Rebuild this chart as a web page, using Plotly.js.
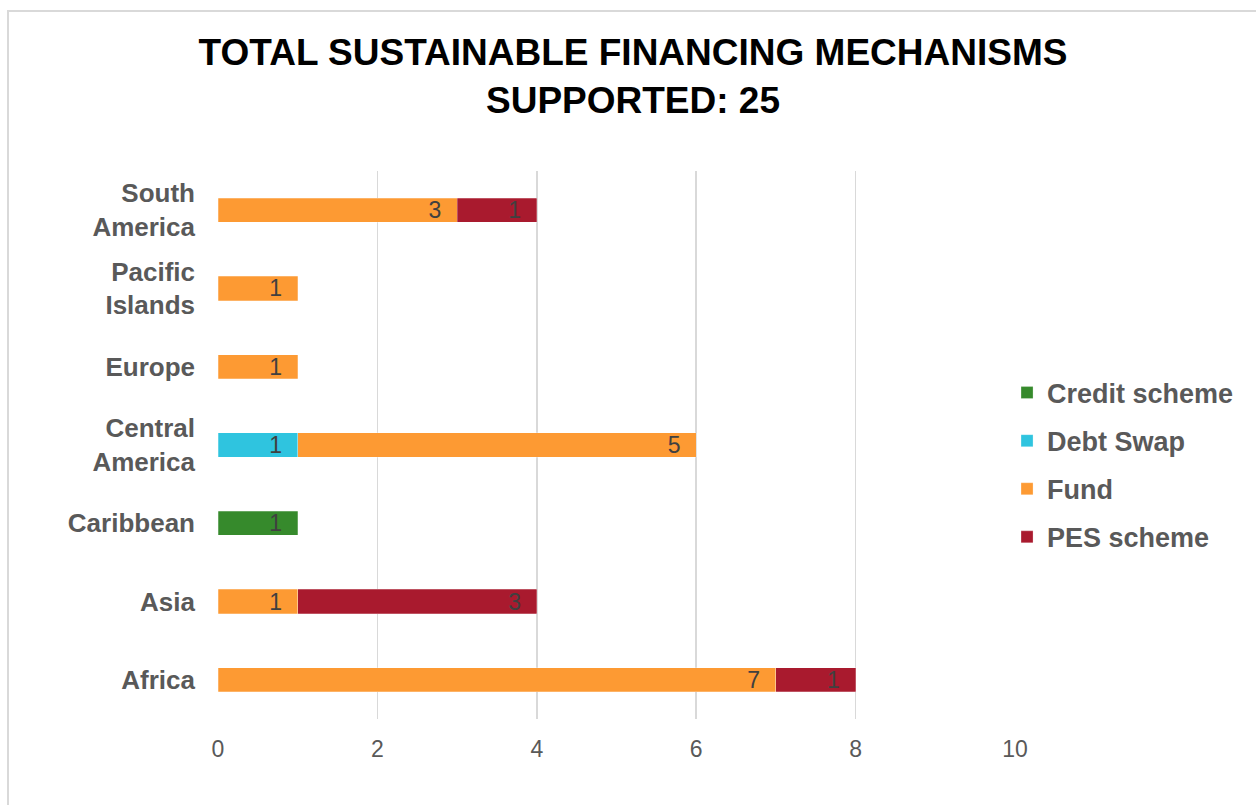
<!DOCTYPE html>
<html>
<head>
<meta charset="utf-8">
<script src="https://cdn.plot.ly/plotly-3.0.1.min.js"></script>
<style>
  html, body { margin: 0; padding: 0; background: #ffffff; }
  #chart { position: absolute; left: 0; top: 0; width: 1256px; height: 805px; }
  #frame { position: absolute; left: 7px; top: 10px; width: 1400px; height: 1000px;
           border-left: 2px solid #d9d9d9; border-top: 2px solid #d9d9d9; pointer-events: none; }
</style>
</head>
<body>
<div id="chart"></div>
<div id="frame"></div>
<script>
// Data
const categories = ["Africa", "Asia", "Caribbean", "Central<br>America", "Europe", "Pacific<br>Islands", "South<br>America"];
const seriesNames = ["Credit scheme", "Debt Swap", "Fund", "PES scheme"];
const creditScheme = [0, 0, 1, 0, 0, 0, 0];
const debtSwap     = [0, 0, 0, 1, 0, 0, 0];
const fund         = [7, 1, 0, 5, 1, 1, 3];
const pesScheme    = [1, 3, 0, 0, 0, 0, 1];
const xTickValues  = [0, 2, 4, 6, 8, 10];
const chartTitle   = "TOTAL SUSTAINABLE FINANCING MECHANISMS<br>SUPPORTED: 25";

const seriesValues = [creditScheme, debtSwap, fund, pesScheme];
const seriesColors = ["#368a2c", "#2fc4df", "#fd9a33", "#a91a2e"];

const FONT = "Liberation Sans, Arial, Helvetica, sans-serif";

const traces = seriesValues.map((vals, i) => ({
  type: "bar",
  orientation: "h",
  name: seriesNames[i],
  legendgroup: "g" + i,
  y: categories,
  x: vals.map(v => v === 0 ? null : v),
  text: vals.map(v => v === 0 ? "" : String(v) + "\u00a0\u00a0"),
  textposition: "inside",
  insidetextanchor: "end",
  textangle: 0,
  constraintext: "none",
  textfont: { family: FONT, size: 23, color: "#404040" },
  marker: { color: seriesColors[i], line: { color: "rgba(255,255,255,0.5)", width: 0.5 } },
  hoverinfo: "name+x"
}));

const layout = {
  width: 1256,
  height: 805,
  paper_bgcolor: "#ffffff",
  plot_bgcolor: "#ffffff",
  margin: { l: 218, r: 241, t: 171, b: 86 },
  barmode: "stack",
  bargap: 0.69,
  title: {
    text: chartTitle,
    font: { family: FONT, size: 37, color: "#000000", weight: 700 },
    xref: "container",
    x: 0.504,
    xanchor: "center",
    yref: "container",
    y: 1 - 65 / 805,
    yanchor: "top"
  },
  xaxis: {
    range: [0, 10],
    tickvals: xTickValues,
    ticktext: xTickValues.map(String),
    showgrid: true,
    gridcolor: "#d9d9d9",
    gridwidth: 1.5,
    zeroline: false,
    showline: false,
    ticks: "",
    ticklabelstandoff: 14,
    tickfont: { family: FONT, size: 23, color: "#595959" },
    fixedrange: true
  },
  yaxis: {
    categoryorder: "array",
    categoryarray: categories,
    showgrid: false,
    zeroline: false,
    showline: false,
    ticks: "",
    ticklabelstandoff: 22,
    tickfont: { family: FONT, size: 26, color: "#595959", weight: 700 },
    fixedrange: true
  },
  showlegend: true,
  legend: {
    x: 0.99,
    xanchor: "left",
    y: 0.4635,
    yanchor: "middle",
    traceorder: "grouped",
    tracegroupgap: 10,
    font: { family: FONT, size: 27, color: "#595959", weight: 700 },
    bgcolor: "rgba(0,0,0,0)"
  }
};

Plotly.newPlot("chart", traces, layout, { displayModeBar: false, staticPlot: true });
</script>
</body>
</html>
